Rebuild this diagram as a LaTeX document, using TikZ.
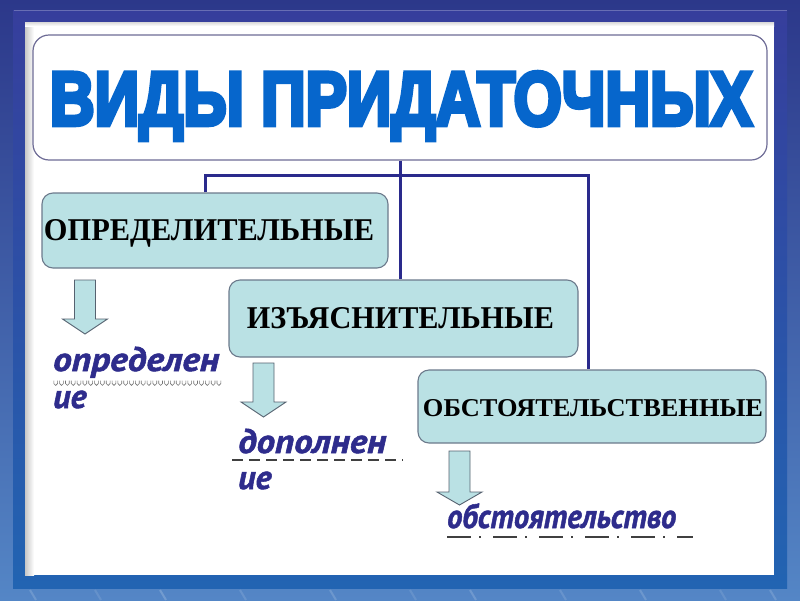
\documentclass[tikz,border=0pt]{standalone}
\usepackage{fontspec}
\setmainfont{Liberation Serif}
\newfontfamily\titlefont{Liberation Sans Bold}[FakeBold=6]
\newfontfamily\handfont{PT Sans Bold Italic}[FakeBold=1.5]
\definecolor{bgtop}{RGB}{44,56,138}
\definecolor{bgbot}{RGB}{84,134,198}
\definecolor{frametop}{RGB}{54,62,156}
\definecolor{framebot}{RGB}{34,100,178}
\definecolor{titleblue}{RGB}{6,102,204}
\definecolor{boxfill}{RGB}{186,225,228}
\definecolor{boxline}{RGB}{108,122,140}
\definecolor{linkcol}{RGB}{42,42,140}
\definecolor{handcol}{RGB}{46,44,140}
\definecolor{titleline}{RGB}{110,108,150}
\tikzset{
  x=1pt, y=-1pt,
  panelbox/.style={draw=titleline, line width=1.2pt, fill=white, rounded corners=16pt, minimum width=734pt, minimum height=125pt, inner sep=0pt},
  kindbox/.style={draw=boxline, line width=1.1pt, fill=boxfill, rounded corners=11pt, inner sep=0pt},
  boxtext/.style={inner sep=0pt, anchor=base, text=black, font=\bfseries},
  link/.style={draw=linkcol, line width=3pt},
  arrowbox/.style={draw=boxline!80!black, line width=0.9pt, fill=boxfill},
  hand/.style={inner sep=0pt, anchor=base west, text=handcol, font=\handfont\fontsize{34}{34}\selectfont},
  ulinedash/.style={draw=black!75, line width=1.2pt},
  wavyu/.style={draw=black!55, line width=0.6pt},
}
\newcommand\downblock[4]{% center x, top y, tip y, head length
  \draw[arrowbox] ({#1-10.5},#2) -- ({#1+10.5},#2) -- ({#1+10.5},{#3-#4}) -- ({#1+22.5},{#3-#4}) -- (#1,#3) -- ({#1-22.5},{#3-#4}) -- ({#1-10.5},{#3-#4}) -- cycle;}
\begin{document}
\begin{tikzpicture}
\useasboundingbox (0,0) rectangle (800,600);
% background
\shade[top color=bgtop, bottom color=bgbot] (0,0) rectangle (800,600);
\foreach \xx/\op in {30/0.15,95/0.1,160/0.18,240/0.12,330/0.15,410/0.1,470/0.16,560/0.12,640/0.15,720/0.1,770/0.14}{
  \draw[white, opacity=\op, line width=2pt] (\xx,590) -- ({\xx+6},600);
}
% frame
\shade[top color=frametop, bottom color=framebot] (13,10) rectangle (787,588);
\draw[white, opacity=0.25, line width=1pt] (13.5,10.5) -- (786.5,10.5);
% panel
\fill[white] (25,22) rectangle (774,575);
\shade[left color=black!22, right color=white] (25,22) rectangle (34,575);
\shade[top color=black!15, bottom color=white] (25,22) rectangle (774,26);
% title
\node[panelbox] (title) at (400,97.5) {};
\node[inner sep=0pt, anchor=base, text=titleblue] (titletext) at (401,125)
  {\resizebox{702pt}{53pt}{\titlefont ВИДЫ ПРИДАТОЧНЫХ}};
% connectors
\coordinate (jl) at (205,175);
\coordinate (jr) at (588,175);
% boxes
\node[kindbox, minimum width=346pt, minimum height=75pt] (box1) at (215,230.5) {};
\node[kindbox, minimum width=349pt, minimum height=77pt] (box2) at (403.5,318.5) {};
\node[kindbox, minimum width=348pt, minimum height=73pt] (box3) at (592,406.5) {};
\draw[link] (title.south) -- (title.south |- box2.north);
\draw[link] (jl |- box1.north) -- (jl) -- (jr) -- (jr |- box3.north);
\node[boxtext] (t1) at (209,240) {\resizebox{330pt}{21pt}{ОПРЕДЕЛИТЕЛЬНЫЕ}};
\node[boxtext] (t2) at (400.5,328) {\resizebox{307pt}{21pt}{ИЗЪЯСНИТЕЛЬНЫЕ}};
\node[boxtext] (t3) at (593,416) {\resizebox{340pt}{17pt}{ОБСТОЯТЕЛЬСТВЕННЫЕ}};
% block arrows
\downblock{85}{280}{334}{15}
\downblock{263.5}{363}{417}{15}
\downblock{459.5}{451}{505}{13}
% handwritten words
\node[hand] (w1) at (53,371) {\resizebox{166pt}{\height}{определен}};
\foreach \i in {0,...,28}{
  \draw[wavyu] ({53.8+\i*5.83},380.5) -- ({53.8+\i*5.83},383.5)
    arc[start angle=180, end angle=0, radius=1.9] -- ++(0,-3);
}
\node[hand] (w1b) at (53,408) {ие};
\node[hand] (w2) at (238,453) {\resizebox{148pt}{\height}{дополнен}};
\draw[ulinedash, dash pattern=on 11pt off 6pt] (232,460) -- (403,460);
\node[hand] (w2b) at (238,489) {ие};
\node[hand] (w3) at (447,528) {\resizebox{229pt}{\height}{обстоятельство}};
\draw[ulinedash, dash pattern=on 24pt off 8pt on 2pt off 12pt] (447,537) -- (693,537);
\end{tikzpicture}
\end{document}
